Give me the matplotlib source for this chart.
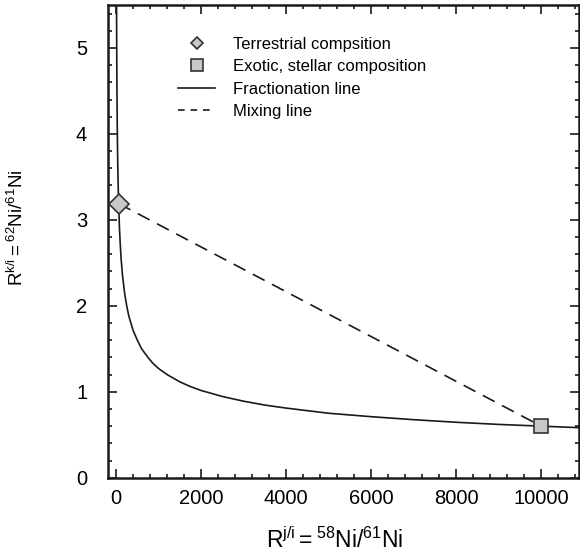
import numpy as np
import matplotlib
matplotlib.use('Agg')
import matplotlib.pyplot as plt
from matplotlib.lines import Line2D

plt.rcParams['font.family'] = ['Liberation Sans', 'DejaVu Sans']
plt.rcParams['mathtext.fontset'] = 'custom'
plt.rcParams['mathtext.rm'] = 'Liberation Sans'
plt.rcParams['mathtext.it'] = 'Liberation Sans'

# fractionation curve, values
frac_x = [11, 12, 15, 20, 25, 30, 35, 40, 50, 60, 80, 100, 120, 150, 200, 250, 300,
          400, 500, 600, 750, 850, 1000, 1200, 1500, 1750, 2000, 2500, 3000, 3500,
          4000, 5000, 6000, 7000, 8000, 9000, 10000, 11000]
frac_y = [5.5, 5.38, 5.0, 4.55, 4.24, 3.99, 3.79, 3.63, 3.38, 3.19, 2.90, 2.70, 2.54,
          2.36, 2.15, 2.00, 1.88, 1.715, 1.60, 1.50, 1.40, 1.34, 1.27, 1.20, 1.115,
          1.06, 1.015, 0.945, 0.89, 0.845, 0.81, 0.75, 0.71, 0.675, 0.645, 0.62,
          0.60, 0.58]

# end members
terr_x, terr_y = 60, 3.19
exo_x, exo_y = 10000, 0.60

legend_labels = ['Terrestrial compsition', 'Exotic, stellar composition',
                 'Fractionation line', 'Mixing line']

fig = plt.figure(figsize=(5.8, 5.56), dpi=100)
ax = fig.add_axes([108/580, 1 - 477.7/556, (579-108)/580, (477.7-5)/556])

ax.plot(frac_x, frac_y, color='#1a1a1a', lw=1.2, zorder=2)
ax.plot([terr_x, exo_x], [terr_y, exo_y], color='#1a1a1a', lw=1.2,
        dashes=(8, 5), zorder=2)
ax.plot(terr_x, terr_y, marker='D', ms=10, mfc='#c8c8c8', mec='#333333',
        mew=1.2, ls='none', zorder=3)
ax.plot(exo_x, exo_y, marker='s', ms=10, mfc='#c8c8c8', mec='#333333',
        mew=1.2, ls='none', zorder=3)

ax.set_xlim(-190, 10890)
ax.set_ylim(0, 5.5)
ax.set_xticks([0, 2000, 4000, 6000, 8000, 10000])
ax.set_xticks(np.arange(0, 10900, 400), minor=True)
ax.set_yticks([0, 1, 2, 3, 4, 5])
ax.set_yticks(np.arange(0, 5.5, 0.2), minor=True)
ax.tick_params(which='both', direction='in', top=True, right=True,
               labelsize=14.5, color='#1a1a1a', width=1.2)
ax.tick_params(which='major', length=6.5)
ax.tick_params(which='minor', length=3)
ax.tick_params(axis='x', pad=8)
ax.tick_params(axis='y', pad=15)
for s in ax.spines.values():
    s.set_linewidth(1.8)
    s.set_color('#1a1a1a')

handles = [
    Line2D([], [], marker='D', ms=6.5, mfc='#c8c8c8', mec='#333333', mew=1.2, ls='none'),
    Line2D([], [], marker='s', ms=8.5, mfc='#c8c8c8', mec='#333333', mew=1.2, ls='none'),
    Line2D([], [], color='#1a1a1a', lw=1.2),
    Line2D([], [], color='#1a1a1a', lw=1.2, dashes=(4, 3.5)),
]
ax.legend(handles, legend_labels, loc='upper left', bbox_to_anchor=(0.149, 0.933),
          frameon=False, fontsize=12, borderpad=0, borderaxespad=0,
          handlelength=2.2, handletextpad=1.1, labelspacing=0.45)

fig.text(335/580, 1 - 540/556, r'$\mathregular{R^{j/i} = {}^{58}Ni/^{61}Ni}$',
         ha='center', va='center', fontsize=16.5)
fig.text(17/580, 1 - 228/556, r'$\mathregular{R^{k/i} = {}^{62}Ni/^{61}Ni}$',
         ha='center', va='center', fontsize=13.5, rotation=90)

fig.savefig('out.png', dpi=100)
